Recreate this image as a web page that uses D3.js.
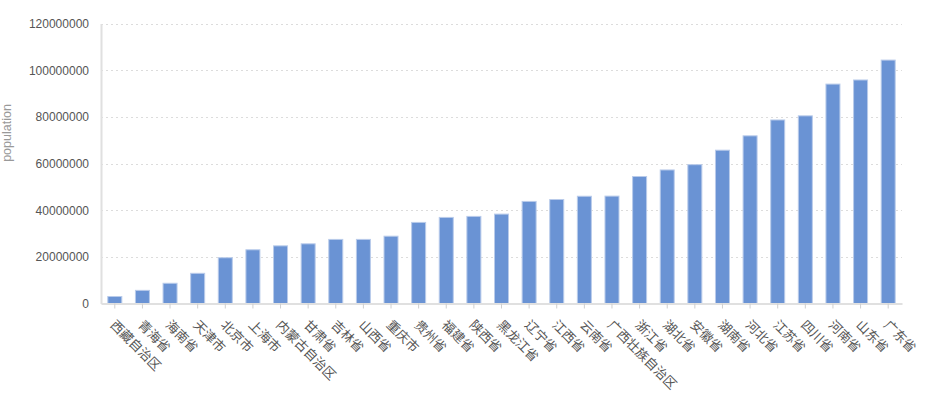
<!DOCTYPE html>
<html><head><meta charset="utf-8">
<script src="https://cdn.jsdelivr.net/npm/d3@7"></script>
<style>body{margin:0;background:#fff}</style>
</head><body>
<svg id="chart" width="931" height="397"></svg>
<script>
const categories = ["西藏自治区","青海省","海南省","天津市","北京市","上海市","内蒙古自治区","甘肃省","吉林省","山西省","重庆市","贵州省","福建省","陕西省","黑龙江省","辽宁省","江西省","云南省","广西壮族自治区","浙江省","湖北省","安徽省","湖南省","河北省","江苏省","四川省","河南省","山东省","广东省"];
const population = [3002166,5626722,8671518,12938224,19612368,23019148,24706321,25575254,27462297,27470000,28846170,34748556,36894217,37327379,38313991,43746323,44567797,45966766,46023761,54426891,57237727,59500468,65700762,71854210,78660941,80417528,94029939,95792719,104320459];
const yTicks = [0,20000000,40000000,60000000,80000000,100000000,120000000];
const yTitle = "population";

const svg = d3.select("#chart");
const font = "'Liberation Sans','Noto Sans CJK SC',sans-serif";
const L = 101, R = 902, T = 23.5, B = 303.5;
const x = d3.scaleBand().domain(categories).range([L, R]).paddingInner(0).paddingOuter(0);
const y = d3.scaleLinear().domain([0, 120000000]).range([B, T]);

// grid
svg.append("g").selectAll("line").data(yTicks.slice(1)).join("line")
  .attr("x1", L).attr("x2", R).attr("y1", d => Math.round(y(d)) + 0.5).attr("y2", d => Math.round(y(d)) + 0.5)
  .attr("stroke", "#dcdcdc").attr("stroke-dasharray", "2,3").attr("stroke-width", 1);

// y axis
const ya = svg.append("g").attr("transform", `translate(${L},0)`)
  .call(d3.axisLeft(y).tickValues(yTicks).tickFormat(d => String(d)).tickSize(0).tickPadding(12));
ya.select(".domain").attr("stroke", "#e0e0e0").attr("stroke-width", 2);
ya.selectAll("text").attr("fill", "#555").attr("font-size", 12).attr("font-family", font);

// bars
const bw = 14;
svg.append("g").selectAll("rect").data(categories).join("rect")
  .attr("x", d => x(d) + x.bandwidth()/2 - bw/2)
  .attr("y", (d,i) => y(population[i]))
  .attr("width", bw)
  .attr("height", (d,i) => B - y(population[i]))
  .attr("fill", "#6a93d4")
  .attr("stroke", "#b9cbea").attr("stroke-width", 1);

// x axis
const xa = svg.append("g").attr("transform", `translate(0,${B})`)
  .call(d3.axisBottom(x).tickSize(5).tickSizeOuter(0).tickFormat(""));
xa.select(".domain").attr("stroke", "#e0e0e0").attr("stroke-width", 2);
xa.selectAll(".tick line").attr("stroke", "#cfcfcf");

svg.append("g").selectAll("text").data(categories).join("text")
  .attr("transform", d => `translate(${x(d) + x.bandwidth()/2 - 2},${B + 19}) rotate(45)`)
  .attr("dy", "0.35em")
  .attr("text-anchor", "start")
  .attr("fill", "#555").attr("font-size", 13).attr("font-family", font)
  .text(d => d);

// y title
svg.append("text")
  .attr("transform", `translate(11,133) rotate(-90)`)
  .attr("text-anchor", "middle")
  .attr("fill", "#999").attr("font-size", 12.5).attr("font-family", font)
  .text(yTitle);
</script>
</body></html>
